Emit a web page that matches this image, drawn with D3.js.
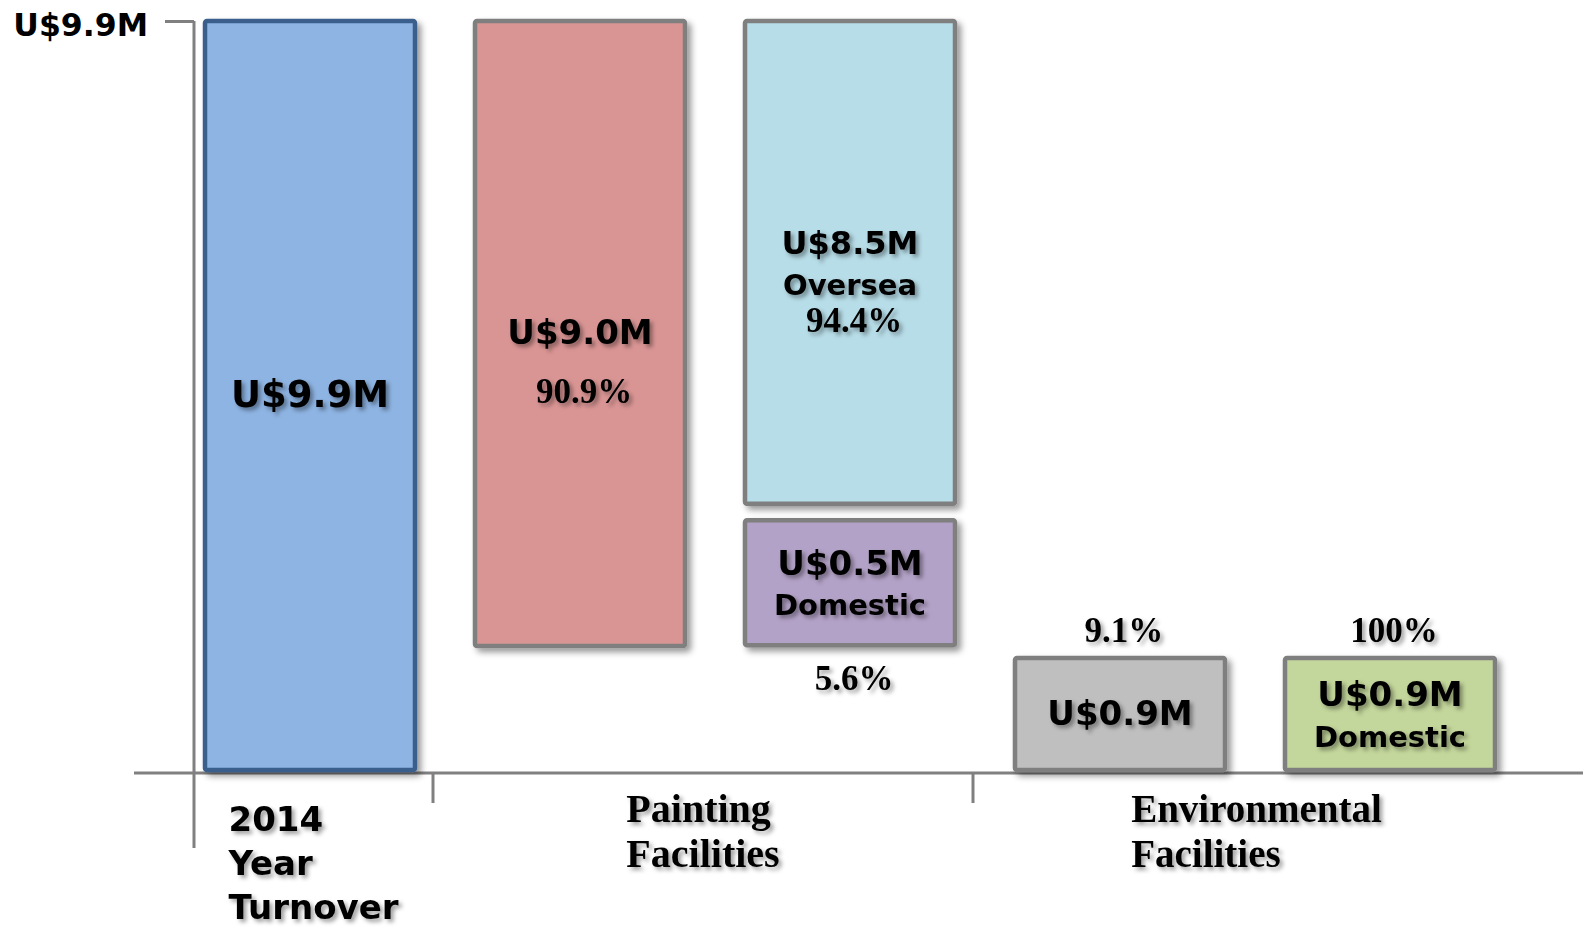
<!DOCTYPE html>
<html><head><meta charset="utf-8">
<script src="https://cdn.jsdelivr.net/npm/d3@7"></script>
<style>
html,body{margin:0;padding:0;background:#fff;}
svg{display:block;}
.sans{font-family:"DejaVu Sans",sans-serif;font-weight:bold;fill:#000;}
.serif{font-family:"Liberation Serif","Times New Roman",serif;font-weight:bold;fill:#000;}
</style></head><body>
<svg id="chart" width="1583" height="927"></svg>
<script>
// ---------- data ----------
const groups = ["2014 Year Turnover", "Painting Facilities", "Environmental Facilities"];
const groupLines = [["2014", "Year", "Turnover"], ["Painting", "Facilities"], ["Environmental", "Facilities"]];
const columns = ["Turnover", "Painting", "Painting split", "Environmental", "Environmental split"];
const columnGroup = [0, 1, 1, 2, 2];
const bars = ["total", "painting", "oversea", "domestic", "environmental", "envDomestic"];
const barColumn = ["Turnover", "Painting", "Painting split", "Painting split", "Environmental", "Environmental split"];
const barLow = [0, 1.64, 3.52, 1.65, 0, 0];
const barHigh = [9.9, 9.9, 9.9, 3.30, 1.48, 1.48];
const valueLabels = ["U$9.9M", "U$9.0M", "U$8.5M", "U$0.5M", "U$0.9M", "U$0.9M"];
const subLabels = ["", "", "Oversea", "Domestic", "", "Domestic"];
const pctLabels = ["", "90.9%", "94.4%", "5.6%", "9.1%", "100%"];
const pctPlace = ["none", "inside", "inside", "below", "above", "above"];
const yTicks = [9.9];
const yTickLabels = ["U$9.9M"];

// ---------- styles ----------
const fills = {total:"#8EB4E3", painting:"#D99594", oversea:"#B7DDE8", domestic:"#B3A2C7", environmental:"#BFBFBF", envDomestic:"#C3D69B"};
const strokes = {total:"#3B5E8C"};
const valueSize = {total:37, oversea:32};
const W = 1583, H = 927;

const svg = d3.select("#chart");
const defs = svg.append("defs");
const bf = defs.append("filter").attr("id","barShadow").attr("x","-10%").attr("y","-10%").attr("width","130%").attr("height","130%");
bf.append("feDropShadow").attr("dx",4).attr("dy",4).attr("stdDeviation",3).attr("flood-color","#000").attr("flood-opacity",0.4);
const tf = defs.append("filter").attr("id","textShadow").attr("x","-10%").attr("y","-30%").attr("width","130%").attr("height","170%");
tf.append("feDropShadow").attr("dx",3).attr("dy",3).attr("stdDeviation",2.2).attr("flood-color","#000").attr("flood-opacity",0.38);

// ---------- scales ----------
const x = d3.scaleBand().domain(columns).range([205, 1495]).paddingInner(0.2222).paddingOuter(0);
const y = d3.scaleLinear().domain([0, 9.9]).range([770, 21]);
const bw = x.bandwidth();
const gap = x.step() - bw;
const axisX = x(columns[0]) - 11;
const baseY = y(0) + 3;

// ---------- axes ----------
const axisColor = "#808080";
svg.append("line").attr("x1", axisX - 60).attr("x2", W).attr("y1", baseY).attr("y2", baseY)
  .attr("stroke", axisColor).attr("stroke-width", 3);
svg.append("line").attr("x1", axisX).attr("x2", axisX).attr("y1", y(9.9)).attr("y2", baseY + 75)
  .attr("stroke", axisColor).attr("stroke-width", 3);

const yAxis = svg.append("g").attr("transform", `translate(${axisX},0)`)
  .call(d3.axisLeft(y).tickValues(yTicks).tickFormat((d, i) => yTickLabels[i]).tickSize(29).tickPadding(17));
yAxis.select(".domain").remove();
yAxis.selectAll(".tick line").attr("stroke", axisColor).attr("stroke-width", 3);
yAxis.selectAll(".tick text").attr("class", "sans").attr("font-size", 31.5).attr("dy", "0.45em")
  .style("font-family", '"DejaVu Sans",sans-serif').style("font-weight", "bold").attr("fill", "#000");

// group dividers
const boundaries = [axisX];
for (let c = 1; c < columns.length; c++) {
  if (columnGroup[c] !== columnGroup[c - 1]) boundaries.push(x(columns[c - 1]) + bw + gap * 0.3);
}
boundaries.push(x(columns[columns.length - 1]) + bw + 45);
boundaries.slice(1, -1).forEach(bx => {
  svg.append("line").attr("x1", bx).attr("x2", bx).attr("y1", baseY).attr("y2", baseY + 30)
    .attr("stroke", axisColor).attr("stroke-width", 3);
});

// ---------- bars ----------
const barData = bars.map((id, i) => ({id, i, col: barColumn[i], lo: barLow[i], hi: barHigh[i]}));
svg.append("g").selectAll("rect").data(barData).join("rect")
  .attr("x", d => x(d.col))
  .attr("y", d => y(d.hi))
  .attr("width", bw)
  .attr("height", d => y(d.lo) - y(d.hi))
  .attr("rx", 2)
  .attr("fill", d => fills[d.id])
  .attr("stroke", d => strokes[d.id] || "#7F7F7F")
  .attr("stroke-width", 4.5)
  .attr("filter", "url(#barShadow)");

// ---------- bar labels ----------
const lab = svg.append("g").attr("filter", "url(#textShadow)");
barData.forEach(d => {
  const cx = x(d.col) + bw / 2;
  const top = y(d.hi), bot = y(d.lo), mid = (top + bot) / 2;
  const hasSub = subLabels[d.i] !== "";
  const vs = valueSize[d.id] || 34;
  lab.append("text").attr("class", "sans").attr("x", cx).attr("y", hasSub ? mid - 8 : mid + 11)
    .attr("text-anchor", "middle").attr("font-size", vs).text(valueLabels[d.i]);
  if (hasSub) {
    lab.append("text").attr("class", "sans").attr("x", cx).attr("y", mid + 32.5)
      .attr("text-anchor", "middle").attr("font-size", 29).text(subLabels[d.i]);
  }
  const p = pctPlace[d.i];
  if (p !== "none") {
    let py = p === "inside" ? mid + 70 : p === "below" ? bot + 45 : top - 16;
    lab.append("text").attr("class", "serif").attr("x", cx + 4).attr("y", py)
      .attr("text-anchor", "middle").attr("font-size", 35).text(pctLabels[d.i]);
  }
});

// ---------- group (x) labels ----------
groups.forEach((g, gi) => {
  const left = boundaries[gi], right = boundaries[gi + 1];
  const center = (left + right) / 2;
  const isSans = gi === 0;
  const t = lab.append("text").attr("class", isSans ? "sans" : "serif")
    .attr("font-size", isSans ? 34 : (gi === 2 ? 39 : 40));
  const lh = isSans ? 44 : 45;
  const y0 = baseY + (isSans ? 58 : 49);
  const spans = groupLines[gi].map((line, li) =>
    t.append("tspan").attr("y", y0 + li * lh).text(line));
  const maxW = d3.max(spans, s => s.node().getComputedTextLength());
  spans.forEach(s => s.attr("x", center - maxW / 2));
});
</script>
</body></html>
